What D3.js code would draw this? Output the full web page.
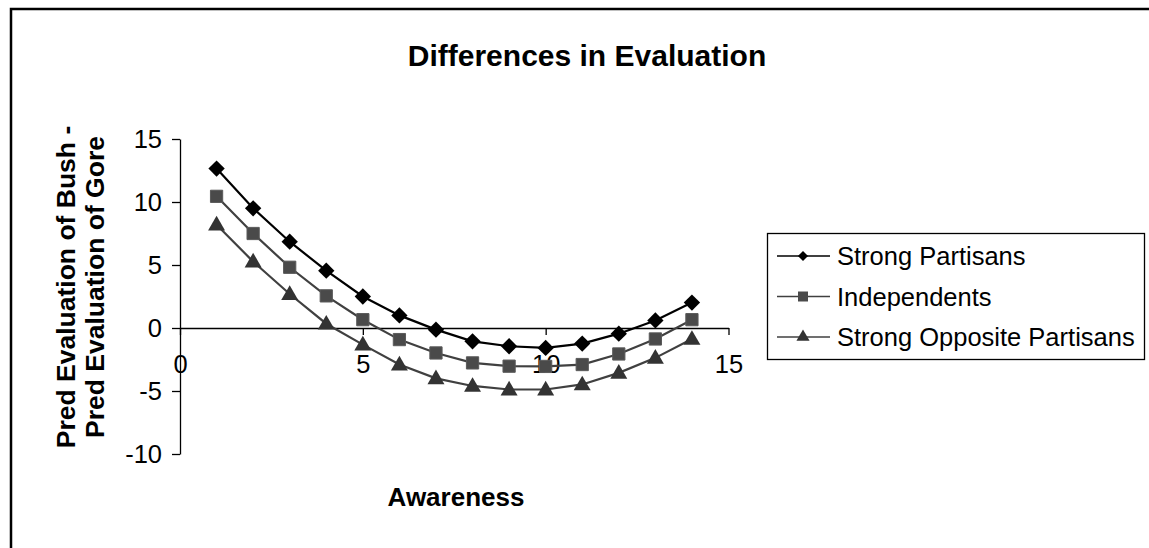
<!DOCTYPE html>
<html>
<head>
<meta charset="utf-8">
<script src="https://cdn.jsdelivr.net/npm/d3@7"></script>
<style>
  html, body { margin: 0; padding: 0; background: #fff; }
  svg { display: block; font-family: "Liberation Sans", Arial, sans-serif; }
</style>
</head>
<body>
<svg id="chart" width="1149" height="548"></svg>
<script>
// Awareness levels on the horizontal axis
const awareness = [1, 2, 3, 4, 5, 6, 7, 8, 9, 10, 11, 12, 13, 14];

// Predicted evaluation of Bush minus predicted evaluation of Gore
const strongPartisans = [12.65, 9.5, 6.85, 4.55, 2.5, 1.0, -0.13, -1.06, -1.45, -1.58, -1.24, -0.45, 0.6, 2.02];
const independents    = [10.45, 7.5, 4.82, 2.55, 0.66, -0.92, -1.98, -2.77, -3.03, -3.05, -2.9, -2.06, -0.87, 0.66];
const strongOpposite  = [8.2, 5.27, 2.7, 0.34, -1.32, -2.9, -4.0, -4.6, -4.88, -4.88, -4.48, -3.56, -2.37, -0.87];

const seriesNames = ["Strong Partisans", "Independents", "Strong Opposite Partisans"];
const xTicks = [0, 5, 10, 15];
const yTicks = [-10, -5, 0, 5, 10, 15];

const series = [
  { name: seriesNames[0], values: strongPartisans, line: "#000000", fill: "#000000", symbol: d3.symbolDiamond2 },
  { name: seriesNames[1], values: independents,    line: "#404040", fill: "#4a4a4a", symbol: d3.symbolSquare },
  { name: seriesNames[2], values: strongOpposite,  line: "#404040", fill: "#333333", symbol: d3.symbolTriangle }
];

const svg = d3.select("#chart");

// outer frame
svg.append("rect")
  .attr("x", 11).attr("y", 9)
  .attr("width", 1160).attr("height", 560)
  .attr("fill", "none").attr("stroke", "#000").attr("stroke-width", 2.5);

const x = d3.scaleLinear().domain([0, 15]).range([180, 728.5]);
const y = d3.scaleLinear().domain([-10, 15]).range([454, 139]);

// title
svg.append("text")
  .attr("x", 587).attr("y", 66)
  .attr("text-anchor", "middle")
  .attr("font-size", 30).attr("font-weight", "bold")
  .text("Differences in Evaluation");

const plain = d => String(d);

// y axis
const yAxis = svg.append("g")
  .attr("transform", `translate(${x(0)},0)`)
  .call(d3.axisLeft(y).tickValues(yTicks).tickFormat(plain).tickSize(8).tickSizeOuter(0).tickPadding(10));
yAxis.selectAll("text").attr("font-size", 25.5).attr("font-family", null).attr("fill", "#000");
yAxis.selectAll("line, path").attr("stroke", "#000").attr("stroke-width", 1.3);

// x axis crossing at zero
const xAxis = svg.append("g")
  .attr("transform", `translate(0,${y(0)})`)
  .call(d3.axisBottom(x).tickValues(xTicks).tickFormat(plain).tickSize(7).tickSizeOuter(0).tickPadding(20));
xAxis.selectAll("text").attr("font-size", 25.5).attr("font-family", null).attr("fill", "#000");
xAxis.selectAll("line, path").attr("stroke", "#000").attr("stroke-width", 1.3);

// axis titles
svg.append("text")
  .attr("x", 456).attr("y", 506)
  .attr("text-anchor", "middle")
  .attr("font-size", 26).attr("font-weight", "bold")
  .text("Awareness");

const yTitle = svg.append("text")
  .attr("transform", "translate(0,287) rotate(-90)")
  .attr("text-anchor", "middle")
  .attr("font-size", 26.5).attr("font-weight", "bold");
yTitle.append("tspan").attr("x", 0).attr("y", 75).text("Pred Evaluation of Bush -");
yTitle.append("tspan").attr("x", 0).attr("y", 104).text("Pred Evaluation of Gore");

// series lines and markers
const line = d3.line().x((d, i) => x(awareness[i])).y(d => y(d));

series.forEach(s => {
  svg.append("path")
    .datum(s.values)
    .attr("d", line)
    .attr("fill", "none")
    .attr("stroke", s.line)
    .attr("stroke-width", 2.2);
});

const markerSize = [170, 150, 125];
series.forEach((s, k) => {
  svg.append("g").selectAll("path")
    .data(s.values)
    .join("path")
    .attr("transform", (d, i) => `translate(${x(awareness[i])},${y(d) + (k === 2 ? 1 : 0)})`)
    .attr("d", d3.symbol().type(s.symbol).size(markerSize[k]))
    .attr("fill", s.fill)
    .attr("stroke", k === 1 ? "#5a5a5a" : "none")
    .attr("stroke-width", 1);
});

// legend
const legend = svg.append("g");
legend.append("rect")
  .attr("x", 767.5).attr("y", 233.5)
  .attr("width", 377).attr("height", 126)
  .attr("fill", "#fff").attr("stroke", "#000").attr("stroke-width", 1.3);

const legendMarker = [65, 100, 75];
series.forEach((s, k) => {
  const cy = 256 + k * 40.5;
  legend.append("line")
    .attr("x1", 777).attr("x2", 830)
    .attr("y1", cy).attr("y2", cy)
    .attr("stroke", s.line).attr("stroke-width", 1.6);
  legend.append("path")
    .attr("transform", `translate(803,${cy})`)
    .attr("d", d3.symbol().type(s.symbol).size(legendMarker[k]))
    .attr("fill", s.fill);
  legend.append("text")
    .attr("x", 837).attr("y", cy + 9)
    .attr("font-size", 25.5)
    .text(s.name);
});
</script>
</body>
</html>
